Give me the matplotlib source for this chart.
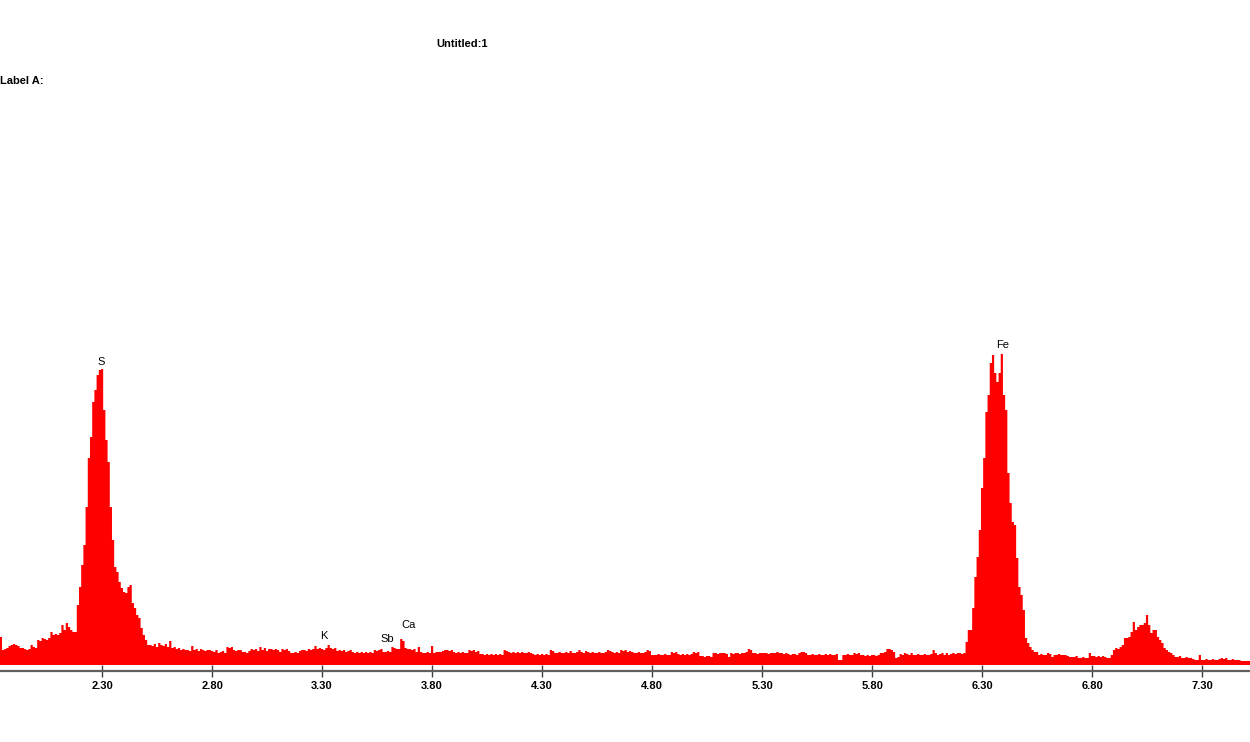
import matplotlib
matplotlib.use("Agg")
import matplotlib.pyplot as plt
import numpy as np

# spectrum channels, 10 eV wide, starting at 1.835 keV (heights in counts)
counts_low = [28, 15, 16, 17, 19, 20, 21, 20, 19, 17,
              17, 16, 15, 16, 20, 18, 17, 25, 24, 27,
              26, 25, 27, 33, 30, 31, 30, 32, 40, 35,
              42, 38, 35, 33, 33]
counts_s = [60, 78, 100, 120, 158, 207, 228, 263, 275, 290,
            295, 296, 255, 225, 203, 158, 125, 98, 93, 83,
            77, 73, 72, 78, 80, 62, 57, 50, 47, 37,
            30, 25, 20]
counts_bg1 = [20, 19, 21, 18, 22, 20, 19, 21, 18, 24,
              17, 18, 16, 17, 15, 16, 15, 15, 14, 19,
              15, 16, 14, 16, 15, 14, 15, 15]
counts_mid = [14, 13, 15, 12, 13, 14, 12, 18, 17, 18,
              15, 14, 15, 15, 13, 13, 12, 14, 16, 15,
              16, 14, 18, 15, 17, 14, 16, 16, 15, 16,
              15, 13, 16, 15, 16, 14, 12, 12, 13, 12,
              14, 15, 15, 14, 16, 15, 16, 19, 16, 17,
              16, 15, 17, 20, 17, 16, 17, 14, 15, 14,
              15, 13, 14, 15, 13, 12, 13, 12, 13, 12,
              13, 12, 13, 12, 15, 14, 15, 16, 13, 13,
              14, 13, 18, 17, 16, 16, 26, 24, 17, 16,
              16, 15, 16, 13, 18, 13, 12, 12, 13, 12,
              19, 12, 13, 13, 13, 14, 15, 15, 14, 15,
              13, 12, 13, 12, 13, 12, 12, 15, 14, 15,
              13, 14, 11, 11, 10, 11, 10, 11, 10, 11,
              10, 11, 10, 15, 14, 13, 12, 13, 12, 13,
              12, 13, 12, 12, 13, 12, 11, 10, 11, 10,
              11, 10, 11, 10, 15, 14, 12, 12, 13, 12,
              12, 13, 12, 14, 12, 12, 13, 15, 13, 12,
              14, 13, 12, 13, 12, 12, 13, 12, 12, 13,
              15, 14, 13, 12, 13, 12, 15, 14, 15, 13,
              14, 13, 12, 12, 13, 12, 12, 13, 15, 14,
              10, 10, 10, 11, 10, 10, 11, 10, 10, 13,
              12, 13, 11, 10, 11, 10, 11, 10, 11, 13,
              12, 13, 9, 9, 8, 9, 9, 8, 12, 12,
              11, 12, 12, 12, 11, 8, 12, 11, 12, 12,
              11, 12, 12, 13, 16, 15, 12, 12, 11, 12,
              12, 12, 12, 11, 12, 12, 12, 13, 12, 12,
              11, 12, 11, 10, 11, 11, 10, 12, 13, 13,
              12, 10, 10, 11, 10, 10, 11, 10, 10, 11,
              10, 11, 10, 10, 11, 5, 5, 10, 10, 11,
              10, 10, 12, 11, 12, 10, 10, 9, 10, 9,
              10, 10, 9, 10, 12, 12, 13, 16, 16, 15,
              13, 7, 8, 11, 10, 12, 11, 10, 12, 10,
              10, 11, 10, 10, 11, 10, 10, 11, 15, 12,
              10, 11, 12, 10, 12, 10, 11, 12, 11, 12,
              12, 11, 12]
counts_fe = [23, 35, 35, 57, 88, 108, 135, 177, 207, 253,
             270, 302, 310, 292, 283, 292, 311, 270, 255, 192,
             162, 143, 140, 107, 78, 70, 55, 27, 22, 18]
counts_tail = [15, 13, 13, 10, 11, 10, 10, 12, 11, 8,
               10, 10, 11, 10, 10, 10, 9, 8, 8, 8,
               9, 7, 7, 8, 7, 7, 12, 9, 9, 8,
               9, 8, 9, 8, 7, 7, 10, 15, 17, 16,
               18, 20, 27, 27, 28, 33, 43, 35, 38, 40,
               40, 42, 50, 40, 32, 35, 35, 28, 25, 22,
               17, 15, 13, 12, 10, 8, 8, 9, 7, 7,
               8, 7, 7, 6, 5, 5, 10, 5, 5, 6,
               5, 5, 6, 5, 5, 6, 7, 6, 7, 5,
               5, 6, 5, 5, 5, 4, 4, 4, 4, 4]

peak_names = ['S', 'K', 'Sb', 'Ca', 'Fe']
peak_energy = [2.295, 3.309, 3.595, 3.691, 6.395]
label_height = [303, 29, 26, 40, 320]

tick_values = [2.30, 2.80, 3.30, 3.80, 4.30, 4.80, 5.30, 5.80, 6.30, 6.80, 7.30]

counts = np.array(counts_low + counts_s + counts_bg1 + counts_mid + counts_fe + counts_tail)
edges = 1.835 + 0.01 * np.arange(len(counts) + 1)

W, H = 1250, 742
fig = plt.figure(figsize=(W / 100, H / 100), dpi=100)
ax_bottom = 671
ax_top = 20
ax = fig.add_axes([0, (H - ax_bottom) / H, 1, (ax_bottom - ax_top) / H])
ax.set_xlim(1.836, 7.518)
ax.set_ylim(-6, ax_bottom - ax_top - 6)

ax.stairs(counts, edges, baseline=0, fill=True, color='#ff0000', lw=0)

for sp in ['top', 'left', 'right']:
    ax.spines[sp].set_visible(False)
ax.spines['bottom'].set_color('#606060')
ax.spines['bottom'].set_linewidth(1.6)
ax.set_yticks([])
ax.set_xticks(tick_values)
ax.set_xticklabels(['%.2f' % t for t in tick_values], fontsize=8,
                   fontweight='bold', family='Liberation Sans')
ax.tick_params(axis='x', direction='inout', length=8, width=1,
               color='#404040', pad=3)

for name, e, h in zip(peak_names, peak_energy, label_height):
    ax.text(e, h, name, ha='center', va='center', fontsize=8,
            family='Liberation Sans')

fig.text(462 / W, 1 - 44 / H, 'Untitled:1', ha='center', va='center',
         fontsize=8, fontweight='bold', family='Liberation Sans')
fig.text(0, 1 - 81 / H, 'Label A:', ha='left', va='center',
         fontsize=8, fontweight='bold', family='Liberation Sans')

fig.savefig('out.png', dpi=100)
